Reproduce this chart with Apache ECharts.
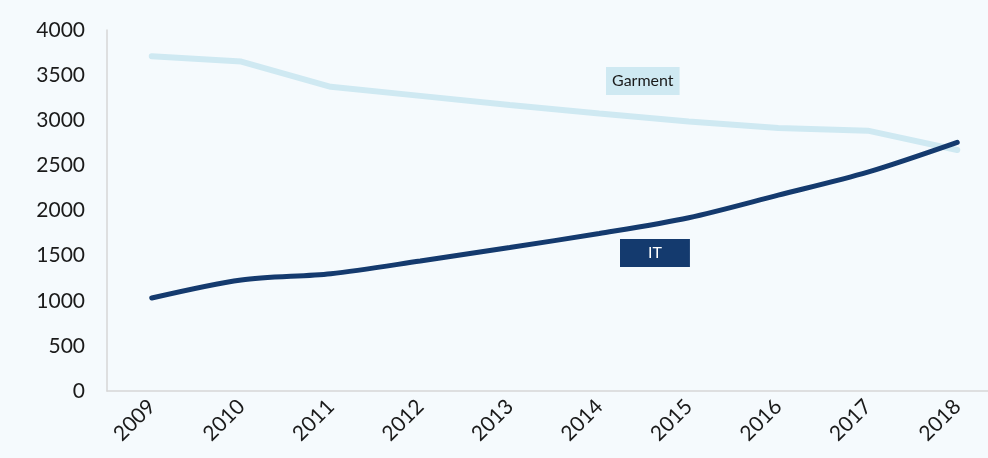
<!DOCTYPE html>
<html>
<head>
<meta charset="utf-8">
<script src="https://cdn.jsdelivr.net/npm/echarts@6/dist/echarts.min.js"></script>
<style>
  html, body { margin: 0; padding: 0; background: #f5fafd; }
  #chart { width: 988px; height: 458px; }
</style>
</head>
<body>
<div id="chart"></div>
<script>
// data
var years = ['2009', '2010', '2011', '2012', '2013', '2014', '2015', '2016', '2017', '2018'];
var garment = [3710, 3650, 3370, 3270, 3170, 3075, 2985, 2915, 2885, 2670];
var it = [1030, 1230, 1300, 1440, 1590, 1745, 1920, 2170, 2425, 2755];
var yTicks = [0, 500, 1000, 1500, 2000, 2500, 3000, 3500, 4000];

var font = 'Lato, "Open Sans", sans-serif';

var option = {
    backgroundColor: '#f5fafd',
    animation: false,
    grid: {
        left: 107,
        right: -14,
        top: 30,
        bottom: 67,
        outerBoundsMode: 'none',
        containLabel: false
    },
    xAxis: {
        type: 'category',
        data: years,
        boundaryGap: true,
        axisLine: { lineStyle: { color: '#d6d6d6', width: 1.5 } },
        axisTick: { show: false },
        axisLabel: {
            rotate: 45,
            margin: 12,
            color: '#1a1a1a',
            fontSize: 21,
            fontFamily: font
        }
    },
    yAxis: {
        type: 'value',
        min: yTicks[0],
        max: yTicks[yTicks.length - 1],
        interval: 500,
        axisLine: { show: true, lineStyle: { color: '#d6d6d6', width: 1.5 } },
        axisTick: { show: false },
        splitLine: { show: false },
        axisLabel: {
            margin: 22,
            color: '#1a1a1a',
            fontSize: 21,
            fontFamily: font,
            formatter: function (v) { return String(v); }
        }
    },
    series: [{
        name: 'Garment',
        type: 'line',
        data: garment,
        symbol: 'none',
        lineStyle: { color: '#cfe9f2', width: 6, cap: 'round' },
        z: 2
    }, {
        name: 'IT',
        type: 'line',
        data: it,
        smooth: 0.3,
        symbol: 'none',
        lineStyle: { color: '#143a6e', width: 5, cap: 'round' },
        z: 3
    }],
    graphic: [{
        type: 'text',
        left: 606,
        top: 67,
        style: {
            text: 'Garment',
            fontSize: 16,
            fontFamily: font,
            fill: '#1a1a1a',
            backgroundColor: '#cfe9f2',
            padding: [6, 6, 6, 6]
        }
    }, {
        type: 'text',
        left: 620,
        top: 239,
        style: {
            text: 'IT',
            fontSize: 16,
            fontFamily: font,
            fill: '#ffffff',
            backgroundColor: '#143a6e',
            padding: [6, 28, 6, 28]
        }
    }]
};

var chart = echarts.init(document.getElementById('chart'));
chart.setOption(option, true);
</script>
</body>
</html>
